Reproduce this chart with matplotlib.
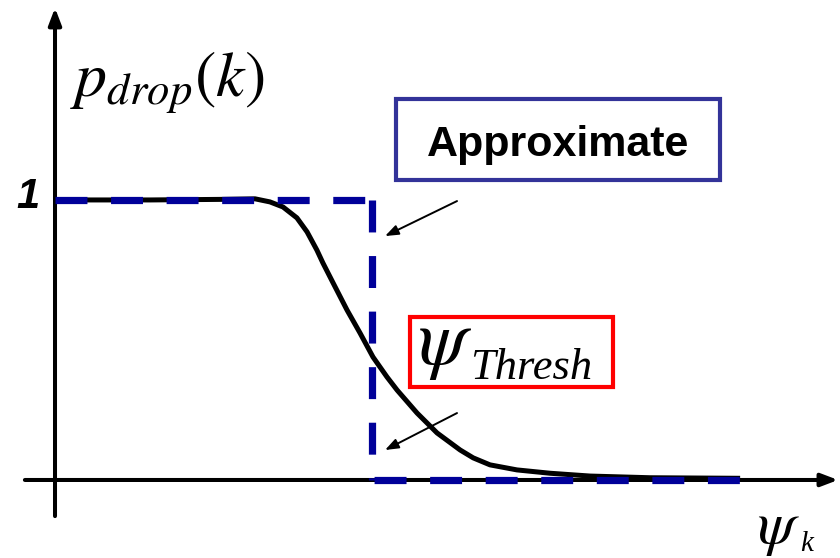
import matplotlib
matplotlib.use("Agg")
import matplotlib.pyplot as plt
from matplotlib.patches import Rectangle

plt.rcParams['mathtext.fontset'] = 'stix'
plt.rcParams['lines.scale_dashes'] = False

# soft drop probability vs. psi (psi in units of the threshold)
psi = [0.0, 0.300, 0.521, 0.631, 0.678, 0.719, 0.763, 0.795, 0.826, 0.845,
       0.877, 0.921, 0.962, 1.003, 1.047, 1.079, 1.142, 1.205, 1.278, 1.319,
       1.372, 1.457, 1.562, 1.688, 1.877, 2.161]
p_drop = [1.0, 1.0, 1.002, 1.004, 0.993, 0.975, 0.936, 0.886, 0.821, 0.775,
          0.704, 0.607, 0.525, 0.439, 0.368, 0.321, 0.239, 0.168, 0.107, 0.079,
          0.054, 0.036, 0.024, 0.014, 0.008, 0.006]

# hard threshold approximation
psi_thresh = 1.0
psi_max = 2.161

fig = plt.figure(figsize=(8.4, 5.58), dpi=100)
ax = fig.add_axes([0, 0, 1, 1])
ax.set_xlim(-0.1735, 2.476)
ax.set_ylim(-0.2786, 1.714)
ax.axis('off')

# axes with arrow heads
axis_arrow = dict(arrowstyle='-|>,head_length=1.0,head_width=0.38',
                  lw=2.9, color='black', shrinkA=0, shrinkB=0)
ax.annotate('', xy=(2.47, 0), xytext=(-0.095, 0), arrowprops=axis_arrow)
ax.annotate('', xy=(0, 1.686), xytext=(0, -0.129), arrowprops=axis_arrow)

ax.plot(psi, p_drop, color='black', lw=3.6, solid_capstyle='butt',
        solid_joinstyle='round', zorder=3)

dash = dict(color='#000099', lw=5.2, dash_capstyle='butt', zorder=4)
ax.plot([0, psi_thresh], [1, 1], linestyle=(0, (23, 17)), **dash)
ax.plot([psi_thresh, psi_thresh], [1, 0], linestyle=(0, (23, 17)), **dash)
ax.plot([psi_thresh, psi_max], [0, 0], linestyle=(-1.5, (23, 17)), **dash)

ax.text(-0.085, 1.011, '1', fontsize=30, fontweight='bold', fontstyle='italic',
        family='Liberation Sans', ha='center', va='center')
ax.text(0.047, 1.368, r'$p_{drop}(k)$', fontsize=46, ha='left', va='baseline')

# psi_k axis label
ax.text(2.215, -0.225, r'$\psi$', fontsize=44, ha='left', va='baseline')
ax.text(2.350, -0.255, 'k', fontsize=21, family='Liberation Serif',
        fontstyle='italic', ha='left', va='baseline')

# "Approximate" label box
ax.add_patch(Rectangle((1.076, 1.071), 1.022, 0.290, fill=False,
                       edgecolor='#333399', lw=3, zorder=5))
ax.text(1.587, 1.157, 'Approximate', fontsize=31, fontweight='bold',
        family='Liberation Sans', ha='center', va='baseline')

# threshold label box
ax.add_patch(Rectangle((1.12, 0.332), 0.64, 0.25, fill=False,
                       edgecolor='red', lw=3, zorder=5))
ax.text(1.145, 0.414, r'$\psi$', fontsize=56, ha='left', va='baseline')
ax.text(1.309, 0.361, 'Thresh', fontsize=32, family='Liberation Serif',
        fontstyle='italic', ha='left', va='baseline')

arrow = dict(arrowstyle='-|>,head_length=0.8,head_width=0.3',
             lw=1.4, color='black', shrinkA=0, shrinkB=0)
ax.annotate('', xy=(psi_thresh + 0.041, 0.871), xytext=(1.268, 0.996),
            arrowprops=arrow)
ax.annotate('', xy=(psi_thresh + 0.041, 0.107), xytext=(1.268, 0.239),
            arrowprops=arrow)

fig.savefig('out.png', dpi=100)
